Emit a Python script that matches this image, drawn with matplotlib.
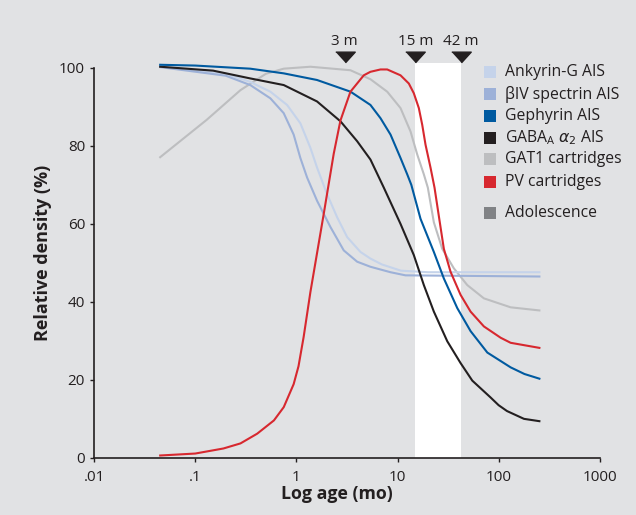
import matplotlib
matplotlib.use("Agg")
import matplotlib.pyplot as plt
from matplotlib.patches import Rectangle

plt.rcParams['font.family'] = ['Open Sans', 'DejaVu Sans']
plt.rcParams['mathtext.fontset'] = 'dejavusans'

BG = "#e1e2e4"
INK = "#231f20"

# ages in months, values in %
ank_age = [0.045, 0.2, 0.35, 0.553, 0.809, 1.095, 1.376, 1.603, 2.013, 2.529, 3.18, 4.3, 5.4, 7.0, 10.8, 20, 253]
ank_val = [100.4, 98.5, 96.4, 93.9, 90.5, 85.8, 79.5, 74.4, 67.6, 61.7, 56.6, 52.8, 51.1, 49.6, 48.0, 47.6, 47.6]

biv_age = [0.045, 0.2, 0.35, 0.553, 0.749, 0.94, 1.095, 1.276, 1.603, 2.171, 2.94, 3.99, 5.4, 8.53, 12, 253]
biv_val = [100.2, 98.0, 95.6, 92.2, 88.4, 82.9, 76.9, 71.9, 65.9, 59.2, 53.2, 50.3, 49.0, 47.6, 46.8, 46.5]

geph_age = [0.045, 0.1, 0.35, 0.75, 1.6, 3.43, 5.4, 6.79, 8.53, 10.71, 12.48, 13.7, 16.89, 22.88, 28.73,
            39.0, 52.8, 77.3, 131.5, 180, 253]
geph_val = [100.8, 100.6, 99.8, 98.6, 96.9, 93.9, 90.5, 87.1, 82.9, 76.9, 72.7, 70.0, 61.3, 52.8, 46.0,
            38.4, 32.5, 27.0, 23.2, 21.5, 20.3]

gaba_age = [0.045, 0.15, 0.35, 0.75, 1.6, 2.73, 3.99, 5.4, 7.32, 10.71, 14.5, 18.22, 22.88, 31.05, 42.05,
            54.9, 83.1, 100, 121, 178, 253]
gaba_val = [100.3, 99.3, 97.3, 95.6, 91.4, 86.3, 81.2, 76.5, 69.3, 60.0, 52.0, 44.3, 37.5, 29.9, 24.3,
            19.8, 15.5, 13.5, 12.0, 10.0, 9.4]

gat_age = [0.045, 0.13, 0.28, 0.5, 0.749, 1.376, 3.425, 5.4, 7.91, 10.71, 13.45, 15.67, 18.22, 19.95,
           22.88, 27.7, 36.08, 48.98, 71.5, 131.5, 253]
gat_val = [77.1, 86.7, 94.3, 98.5, 99.8, 100.3, 99.4, 97.1, 93.9, 89.7, 83.7, 77.8, 72.7, 69.3,
           60.4, 53.6, 48.6, 44.3, 40.9, 38.6, 37.8]

pv_age = [0.045, 0.1, 0.19, 0.28, 0.41, 0.6, 0.75, 0.94, 1.05, 1.1, 1.18, 1.376, 1.863, 2.341, 2.727,
          3.425, 4.64, 5.4, 6.79, 7.91, 10.71, 12.94, 14.5, 16.25, 17.56, 18.93, 21.22, 23.23, 25.6,
          28.73, 33.48, 42.05, 52.8, 71.5, 104.7, 131.5, 253]
pv_val = [0.6, 1.1, 2.4, 3.7, 6.2, 9.6, 13.0, 18.9, 23.5, 26.5, 31.0, 42.5, 62.5, 78.0, 86.5,
          93.9, 98.1, 99.0, 99.6, 99.6, 98.1, 96.0, 93.5, 89.7, 85.4, 80.3, 74.4, 69.3, 62.1,
          53.6, 47.7, 41.8, 37.5, 33.7, 30.8, 29.5, 28.2]

adolescence = (15, 42)
marker_ages = [3, 15, 42]
marker_labels = ["3 m", "15 m", "42 m"]

series = [
    ("Ankyrin-G AIS", ank_age, ank_val, "#c5d3ea"),
    ("\u03b2IV spectrin AIS", biv_age, biv_val, "#9db1d8"),
    ("Gephyrin AIS", geph_age, geph_val, "#005aa0"),
    (r"GABA$_\mathregular{A}$ $\alpha_2$ AIS", gaba_age, gaba_val, INK),
    ("GAT1 cartridges", gat_age, gat_val, "#bdbec0"),
    ("PV cartridges", pv_age, pv_val, "#d7282f"),
]

fig = plt.figure(figsize=(6.36, 5.15), dpi=100, facecolor=BG)
ax = fig.add_axes([0.148, 0.111, 0.795, 0.767], facecolor=BG)

ax.axvspan(*adolescence, color="white", zorder=0, lw=0)

# draw order: light curves underneath
for label, age, val, color in [series[4], series[0], series[1], series[3], series[2], series[5]]:
    ax.plot(age, val, color=color, lw=1.5, solid_joinstyle="round")

ax.set_xscale("log")
ax.set_xlim(0.01, 1000)
ax.set_ylim(0, 101.3)
ax.set_xticks([0.01, 0.1, 1, 10, 100, 1000])
ax.set_xticklabels([".01", ".1", "1", "10", "100", "1000"])
ax.xaxis.set_minor_locator(plt.NullLocator())
ax.set_yticks([0, 20, 40, 60, 80, 100])
ax.tick_params(axis="both", labelsize=11, length=3, width=1, color=INK, labelcolor=INK)
ax.tick_params(axis="x", pad=6)

for s in ["top", "right"]:
    ax.spines[s].set_visible(False)
ax.spines["left"].set_bounds(0, 100)
for s in ["left", "bottom"]:
    ax.spines[s].set_color(INK)
    ax.spines[s].set_linewidth(1.2)

ax.set_xlabel("Log age (mo)", fontsize=12.8, fontweight="bold", color=INK)
ax.set_ylabel("Relative density (%)", fontsize=13, fontweight="bold", color=INK)
ax.xaxis.set_label_coords(0.48, -0.07)
ax.yaxis.set_label_coords(-0.083, 0.518)

# time-point markers above the plot
tri = [(-1, 0.55), (1, 0.55), (0, -0.55)]
ax.plot(marker_ages, [102.9] * 3, linestyle="none", marker=tri, markersize=14,
        color=INK, clip_on=False)
for a, t in zip(marker_ages, marker_labels):
    ax.text(a, 106.7, t, ha="center", va="center", fontsize=11, color=INK, clip_on=False)

# legend drawn by hand so the gap before "Adolescence" matches
W, H = 636, 515
rows = [71.7, 94.3, 116, 137.5, 159.3, 181.7]
entries = [(s[0], s[3]) for s in series] + [("Adolescence", "#808285")]
rows = rows + [213.3]
for (label, color), py in zip(entries, rows):
    fig.add_artist(Rectangle((484 / W, 1 - (py + 6) / H), 12 / W, 12 / H,
                             transform=fig.transFigure, facecolor=color, edgecolor="none"))
    fig.text(505 / W, 1 - py / H, label, fontsize=11.3, va="center", color=INK)

fig.savefig("out.png", dpi=100, facecolor=BG)
